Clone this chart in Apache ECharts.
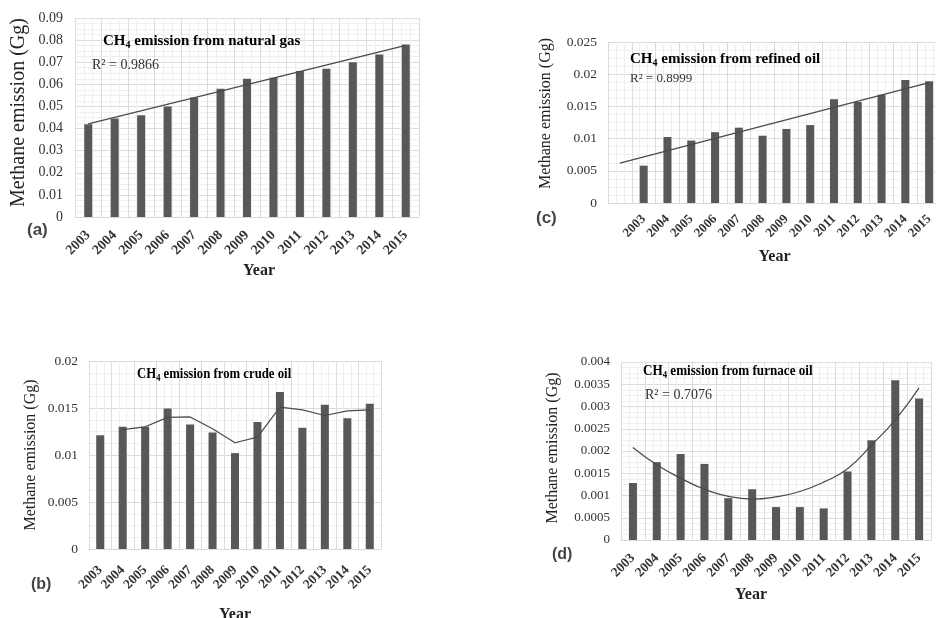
<!DOCTYPE html>
<html>
<head>
<meta charset="utf-8">
<script src="https://cdn.jsdelivr.net/npm/echarts@6/dist/echarts.min.js"></script>
<style>
html,body{margin:0;padding:0;background:#fff;}
#chart{width:936px;height:618px;}
</style>
</head>
<body>
<div id="chart"></div>
<script>
// ---- data ----
const years = ['2003','2004','2005','2006','2007','2008','2009','2010','2011','2012','2013','2014','2015'];

// (a) natural gas
const gasValues = [0.042, 0.0445, 0.046, 0.050, 0.054, 0.058, 0.0625, 0.063, 0.066, 0.067, 0.070, 0.0735, 0.078];
const gasTrendStart = 0.0421;   // linear trend at 2003
const gasTrendEnd = 0.0776;     // linear trend at 2015
const gasR2 = '0.9866';
const gasTicks = {max: 0.09, interval: 0.01};

// (b) crude oil
const crudeValues = [0.0121, 0.0130, 0.0130, 0.01495, 0.01325, 0.0124, 0.0102, 0.0135, 0.0167, 0.0129, 0.01535, 0.0139, 0.01545];
const crudeMovingAvg = [null, 0.0127, 0.0130, 0.0140, 0.01405, 0.0128, 0.0113, 0.0119, 0.0151, 0.0148, 0.0142, 0.0147, 0.0148];
const crudeTicks = {max: 0.02, interval: 0.005};

// (c) refined oil
const refinedValues = [0.0058, 0.01025, 0.0097, 0.0110, 0.0117, 0.01045, 0.0115, 0.0121, 0.0161, 0.0157, 0.0168, 0.0191, 0.0189];
const refinedTrendStart = 0.0062; // trend (backward forecast one period)
const refinedTrendEnd = 0.0187;   // trend at 2015
const refinedR2 = '0.8999';
const refinedTicks = {max: 0.025, interval: 0.005};

// (d) furnace oil
const furnaceValues = [0.00128, 0.00175, 0.00193, 0.00171, 0.00094, 0.00114, 0.00074, 0.00074, 0.00071, 0.00154, 0.00224, 0.00359, 0.00318];
const furnaceTrend = [0.00208, 0.00169, 0.00139, 0.00114, 0.00098, 0.00092, 0.00097, 0.00109, 0.0013, 0.0016, 0.00213, 0.0027, 0.00342];
const furnaceR2 = '0.7076';
const furnaceTicks = {max: 0.004, interval: 0.0005};

// ---- build ----
const SERIF = '"Liberation Serif", "Times New Roman", serif';
const SANS = '"Liberation Sans", Arial, sans-serif';
const BAR = '#585858';
const LINE = '#4a4a4a';

const grids = [
  {left: 75, top: 18, width: 344, height: 199, outerBoundsMode: 'none', containLabel: false},   // a
  {left: 89, top: 361, width: 292, height: 188, outerBoundsMode: 'none', containLabel: false},  // b
  {left: 608, top: 42, width: 333, height: 161, outerBoundsMode: 'none', containLabel: false},  // c
  {left: 621, top: 362, width: 310, height: 178, outerBoundsMode: 'none', containLabel: false}  // d
];

const catsC = [''].concat(years);
const catsList = [years, years, catsC, years];
const yNameGap = [46, 50, 54, 60];
const yNameSize = [20, 16, 16, 16];
const yNamePad = [[0,0,0,10],[0,0,0,0],[0,0,0,18],[0,0,0,6]];
const yLabelSize = [14, 13.5, 13.5, 13];
const yLabelMargin = [12, 11, 11, 11];
const xLabelSize = [14, 13.5, 13, 13.5];
const xLabelMargin = [16, 19, 14, 16];
const yearGap = [46, 58, 46, 47];
const yearPad = [[0,0,0,24],[0,0,0,0],[0,0,0,0],[0,50,0,0]];
const tickCfg = [gasTicks, crudeTicks, refinedTicks, furnaceTicks];

const xAxis = [], yAxis = [];
for (let i = 0; i < 4; i++) {
  xAxis.push({
    type: 'category', gridIndex: i, data: catsList[i], boundaryGap: true,
    axisLine: {show: true, lineStyle: {color: '#d9d9d9'}},
    axisTick: {show: false},
    splitLine: {show: true, interval: 0, lineStyle: {color: '#dcdcdc', width: 1}},
    axisLabel: {rotate: 45, interval: 0, margin: xLabelMargin[i], fontFamily: SERIF, fontWeight: 'bold', fontSize: xLabelSize[i], color: '#333'},
    name: 'Year', nameLocation: 'middle', nameGap: yearGap[i],
    nameTextStyle: {fontFamily: SERIF, fontWeight: 'bold', fontSize: 16, color: '#222', padding: yearPad[i]}
  });
  // hidden value axis used only for faint minor vertical grid lines
  xAxis.push({
    type: 'value', gridIndex: i, min: 0, max: catsList[i].length, interval: 1,
    axisLine: {show: false}, axisTick: {show: false}, axisLabel: {show: false},
    splitLine: {show: false},
    minorTick: {show: false, splitNumber: 3},
    minorSplitLine: {show: true, lineStyle: {color: '#f0f0f0'}}
  });
  yAxis.push({
    type: 'value', gridIndex: i, min: 0, max: tickCfg[i].max, interval: tickCfg[i].interval,
    axisLine: {show: false}, axisTick: {show: false},
    splitLine: {show: true, lineStyle: {color: '#dcdcdc'}},
    minorTick: {show: false, splitNumber: 4},
    minorSplitLine: {show: true, lineStyle: {color: '#f0f0f0'}},
    axisLabel: {fontFamily: SERIF, fontSize: yLabelSize[i], color: '#333', margin: yLabelMargin[i]},
    name: 'Methane emission (Gg)', nameLocation: 'middle', nameGap: yNameGap[i],
    nameTextStyle: {fontFamily: SERIF, fontSize: yNameSize[i], color: '#222', padding: yNamePad[i]}
  });
}

function bar(i, data) {
  return {type: 'bar', xAxisIndex: i * 2, yAxisIndex: i, data: data, barWidth: 8,
    itemStyle: {color: BAR}, silent: true};
}
function line(i, data, smooth) {
  return {type: 'line', xAxisIndex: i * 2, yAxisIndex: i, data: data, smooth: smooth || false,
    connectNulls: true, showSymbol: false, symbol: 'none',
    lineStyle: {color: LINE, width: 1.2}, silent: true, z: 5};
}

const gasTrend = years.map((y, k) => k === 0 ? gasTrendStart : (k === years.length - 1 ? gasTrendEnd : null));
const refinedTrend = catsC.map((y, k) => k === 0 ? refinedTrendStart : (k === catsC.length - 1 ? refinedTrendEnd : null));

const series = [
  bar(0, gasValues), line(0, gasTrend),
  bar(1, crudeValues), line(1, crudeMovingAvg),
  bar(2, [null].concat(refinedValues)), line(2, refinedTrend),
  bar(3, furnaceValues), line(3, furnaceTrend, 0.5)
];

const titleRich = (size) => ({
  b: {fontFamily: SERIF, fontWeight: 'bold', fontSize: size, color: '#222', lineHeight: size + 2},
  s: {fontFamily: SERIF, fontWeight: 'bold', fontSize: Math.round(size * 0.65), color: '#222', lineHeight: 6, verticalAlign: 'bottom'}
});
function titleText(x, y, rest, size, sx) {
  return {type: 'text', x: x, y: y, scaleX: sx || 1, z: 100,
    style: {text: '{b|CH}{s|4}{b| ' + rest + '}', rich: titleRich(size)}};
}
function r2Text(x, y, v, size) {
  return {type: 'text', x: x, y: y, z: 100,
    style: {text: 'R² = ' + v, fontFamily: SERIF, fontSize: size, fill: '#333'}};
}
function panelLabel(x, y, t, size) {
  return {type: 'text', x: x, y: y, z: 100,
    style: {text: t, fontFamily: SANS, fontWeight: 'bold', fontSize: size, fill: '#444'}};
}

const graphic = [
  titleText(103, 33, 'emission from natural gas', 15),
  r2Text(92, 58, gasR2, 14),
  titleText(630, 51, 'emission from refined oil', 15),
  r2Text(630, 72, refinedR2, 13),
  titleText(137, 366, 'emission from crude oil', 15, 0.85),
  titleText(643, 363, 'emission from furnace oil', 15, 0.875),
  r2Text(645, 388, furnaceR2, 14),
  panelLabel(27, 222, '(a)', 17),
  panelLabel(536, 210, '(c)', 17),
  panelLabel(31, 577, '(b)', 16),
  panelLabel(552, 547, '(d)', 16)
];

const chart = echarts.init(document.getElementById('chart'), null, {renderer: 'canvas'});
chart.setOption({
  animation: false,
  backgroundColor: '#fff',
  grid: grids,
  xAxis: xAxis,
  yAxis: yAxis,
  series: series,
  graphic: graphic
});
</script>
</body>
</html>
